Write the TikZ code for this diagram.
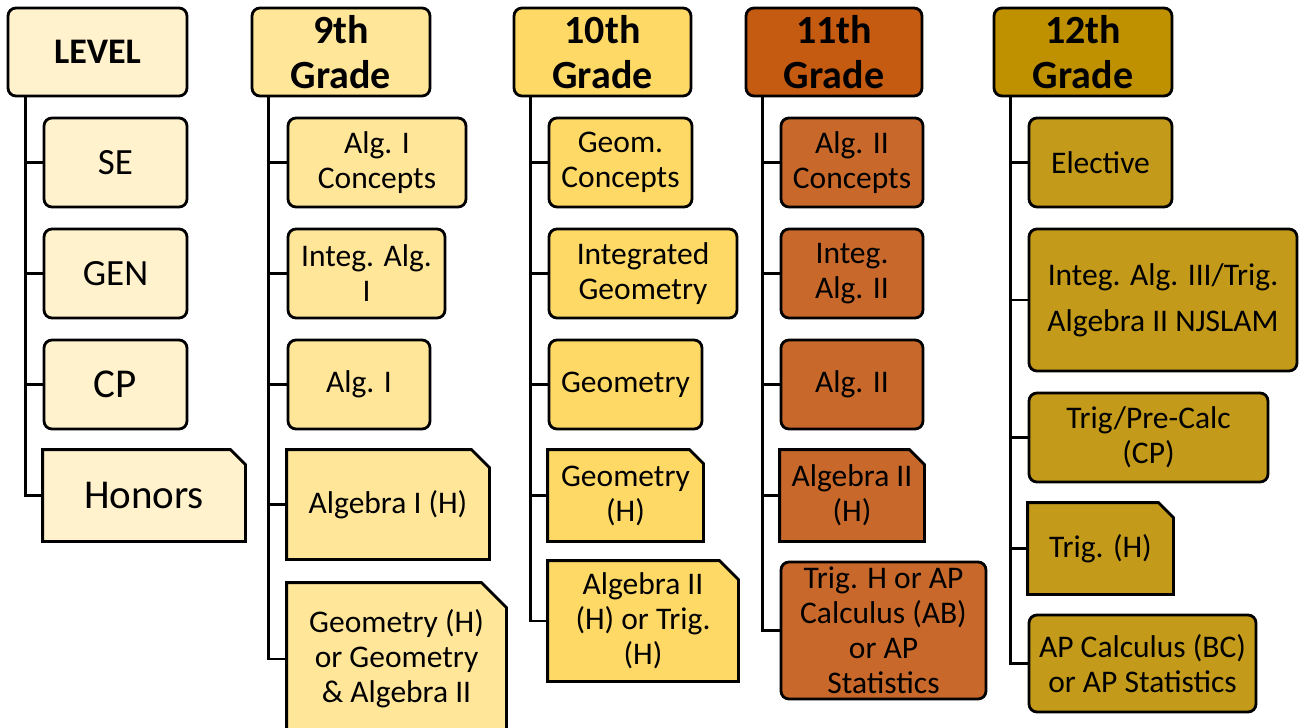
\documentclass[tikz,border=0pt]{standalone}
\usepackage{fontspec}
\setmainfont{Carlito}
\usetikzlibrary{calc,backgrounds}

\definecolor{lvlfill}{HTML}{FFF2CC}
\definecolor{ninefill}{HTML}{FFE699}
\definecolor{tenfill}{HTML}{FFD966}
\definecolor{elevhead}{HTML}{C55A11}
\definecolor{elevfill}{HTML}{C8692B}
\definecolor{twelvehead}{HTML}{BF9000}
\definecolor{twelvefill}{HTML}{C49A1A}

\tikzset{
  hdr/.style={draw, rounded corners=4pt, line width=1.4pt, align=center,
    font=\bfseries\fontsize{20}{22.5}\selectfont,
    minimum width=89pt, minimum height=44pt, inner sep=1pt},
  item/.style={draw, rounded corners=4pt, line width=1.4pt, align=center,
    font=\fontsize{15.75}{17.5}\selectfont,
    minimum height=44.5pt, inner sep=1pt},
  snip/.style={item, draw=none},
  link/.style={line width=1.4pt}
}

% outline with the top right corner cut off, drawn behind the node
\newcommand{\snipout}[3]{%
  \begin{scope}[on background layer]
    \filldraw[fill=#2, line width=1.4pt]
      (#1.south west) -- (#1.north west) -- ($(#1.north east)+(-#3,0)$)
      -- ($(#1.north east)+(0,#3)$) -- (#1.south east) -- cycle;
  \end{scope}}

\begin{document}
\begin{tikzpicture}[x=0.5pt, y=-0.5pt]
\useasboundingbox (0,0) rectangle (1301,728);

% level column
\node[hdr, fill=lvlfill, font=\bfseries\fontsize{18}{20}\selectfont, minimum width=89.5pt] (lvl) at (97.5,52) {LEVEL};
\node[item, fill=lvlfill, minimum width=71.5pt, font=\fontsize{18.5}{20}\selectfont] (se) at (115.5,162.5) {SE};
\node[item, fill=lvlfill, minimum width=71.5pt, font=\fontsize{18.5}{20}\selectfont] (gen) at (115.5,273.5) {GEN};
\node[item, fill=lvlfill, minimum width=71.5pt, font=\fontsize{20.5}{22}\selectfont] (cp) at (115.5,384.5) {CP};
\node[snip, minimum width=100pt, font=\fontsize{20.5}{22}\selectfont] (hon) at (144,495.5) {Honors};
\snipout{hon}{lvlfill}{15}
\foreach \c in {se,gen,cp,hon}
  \draw[link] ($(lvl.south west)+(19,0)$) |- (\c.west);

% 9th grade
\node[hdr, fill=ninefill] (g9) at (341,52) {9th\\Grade};
\node[item, fill=ninefill, minimum width=89pt] (a1c) at (377,162.5) {Alg. I\\Concepts};
\node[item, fill=ninefill, minimum width=78.5pt] (ia1) at (366.5,273.5) {Integ. Alg.\\I};
\node[item, fill=ninefill, minimum width=71pt] (a1) at (359,384.5) {Alg. I};
\node[snip, minimum width=100pt, minimum height=53.5pt] (a1h) at (388,504.5) {Algebra I (H)};
\snipout{a1h}{ninefill}{18}
\node[snip, minimum width=108.5pt, minimum height=75pt] (geoh) at (396.5,659) {Geometry (H)\\or Geometry\\\& Algebra II};
\snipout{geoh}{ninefill}{25}
\foreach \c in {a1c,ia1,a1,a1h,geoh}
  \draw[link] ($(g9.south west)+(18,0)$) |- (\c.west);

% 10th grade
\node[hdr, fill=tenfill, minimum width=88.5pt] (g10) at (602.5,52) {10th\\Grade};
\node[item, fill=tenfill, minimum width=71.5pt] (gc) at (620.5,162.5) {Geom.\\Concepts};
\node[item, fill=tenfill, minimum width=94pt] (ig) at (643,273.5) {Integrated\\Geometry};
\node[item, fill=tenfill, minimum width=76.5pt] (geo) at (625.5,384.5) {Geometry};
\node[snip, minimum width=76.5pt] (gh) at (625.5,495.5) {Geometry\\(H)};
\snipout{gh}{tenfill}{14}
\node[snip, minimum width=94pt, minimum height=59pt] (a2t) at (643,621) {Algebra II\\(H) or Trig.\\(H)};
\snipout{a2t}{tenfill}{19}
\foreach \c in {gc,ig,geo,gh,a2t}
  \draw[link] ($(g10.south west)+(18,0)$) |- (\c.west);

% 11th grade
\node[hdr, fill=elevhead, minimum width=88pt] (g11) at (834,52) {11th\\Grade};
\node[item, fill=elevfill, minimum width=71pt] (a2c) at (852,162.5) {Alg. II\\Concepts};
\node[item, fill=elevfill, minimum width=71pt] (ia2) at (852,273.5) {Integ.\\Alg. II};
\node[item, fill=elevfill, minimum width=71pt] (a2) at (852,384.5) {Alg. II};
\node[snip, minimum width=71pt] (a2h) at (852,495.5) {Algebra II\\(H)};
\snipout{a2h}{elevfill}{15}
\node[item, fill=elevfill, minimum width=102.5pt, minimum height=68.5pt] (trh) at (883.5,630.5) {Trig. H or AP\\Calculus (AB)\\or AP\\Statistics};
\foreach \c in {a2c,ia2,a2,a2h,trh}
  \draw[link] ($(g11.south west)+(18,0)$) |- (\c.west);

% 12th grade
\node[hdr, fill=twelvehead] (g12) at (1083,52) {12th\\Grade};
\node[item, fill=twelvefill, minimum width=71.5pt] (elec) at (1100.5,162.5) {Elective};
\node[item, fill=twelvefill, minimum width=134pt, minimum height=71pt, font=\fontsize{15.75}{23}\selectfont] (ia3) at (1163,300) {Integ. Alg. III/Trig.\\Algebra II NJSLAM};
\node[item, fill=twelvefill, minimum width=119.5pt] (tpc) at (1148.5,437.5) {Trig/Pre-Calc\\(CP)};
\node[snip, minimum width=71.5pt] (trg) at (1100.5,548.5) {Trig. (H)};
\snipout{trg}{twelvefill}{15}
\node[item, fill=twelvefill, minimum width=113.5pt, minimum height=48.5pt] (apc) at (1142.5,663.5) {AP Calculus (BC)\\or AP Statistics};
\foreach \c in {elec,ia3,tpc,trg,apc}
  \draw[link] ($(g12.south west)+(18,0)$) |- (\c.west);
\end{tikzpicture}
\end{document}
